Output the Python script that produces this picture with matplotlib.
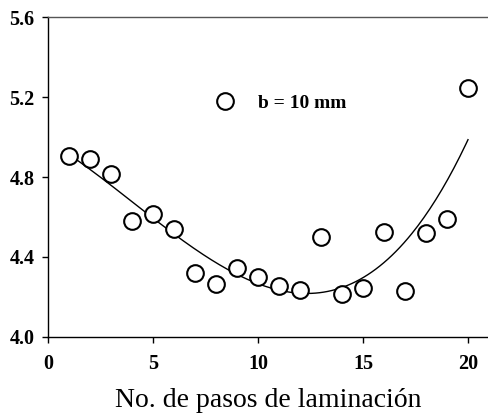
import numpy as np
import matplotlib.pyplot as plt

plt.rcParams['font.family'] = ['Liberation Serif', 'DejaVu Serif']

# number of rolling passes and measured values
pasos = [1, 2, 3, 4, 5, 6, 7, 8, 9, 10, 11, 12, 13, 14, 15, 16, 17, 18, 19, 20]
valores = [4.905, 4.89, 4.815, 4.58, 4.615, 4.54, 4.32, 4.265, 4.345, 4.30,
           4.255, 4.235, 4.50, 4.215, 4.245, 4.525, 4.23, 4.52, 4.59, 5.245]

x = np.array(pasos, dtype=float)
y = np.array(valores)

# polynomial trend through the measurements
coef = np.polyfit(x, y, 3)
xs = np.linspace(x.min(), x.max(), 200)
ys = np.polyval(coef, xs)

fig = plt.figure(figsize=(4.89, 4.17), dpi=100)
ax = fig.add_axes([0.098, 0.192, 0.902, 0.767])

ax.plot(xs, ys, color='black', lw=1.0)
ax.plot(x, y, 'o', ms=12, mfc='white', mec='black', mew=1.5,
        label='b = 10 mm', zorder=3)

ax.set_xlim(0, 21)
ax.set_ylim(4.0, 5.6)
ax.set_xticks([0, 5, 10, 15, 20])
ax.set_yticks([4.0, 4.4, 4.8, 5.2, 5.6])
ax.set_yticklabels(['4.0', '4.4', '4.8', '5.2', '5.6'])
ax.tick_params(labelsize=14.5, length=4.5, width=1)
ax.tick_params(axis='x', pad=8)
ax.tick_params(axis='y', pad=5)
for lbl in ax.get_xticklabels() + ax.get_yticklabels():
    lbl.set_fontweight('bold')

ax.spines['right'].set_visible(False)
for s in ['left', 'bottom', 'top']:
    ax.spines[s].set_linewidth(1.0)
ax.spines['top'].set_color('#555555')

ax.set_xlabel('No. de pasos de laminación', fontsize=20, labelpad=10)

ax.legend(loc='center left', bbox_to_anchor=(0.34, 0.731), frameon=False,
          prop={'weight': 'bold', 'size': 14}, handletextpad=0.7,
          borderaxespad=0)

fig.savefig('out.png', dpi=100)
